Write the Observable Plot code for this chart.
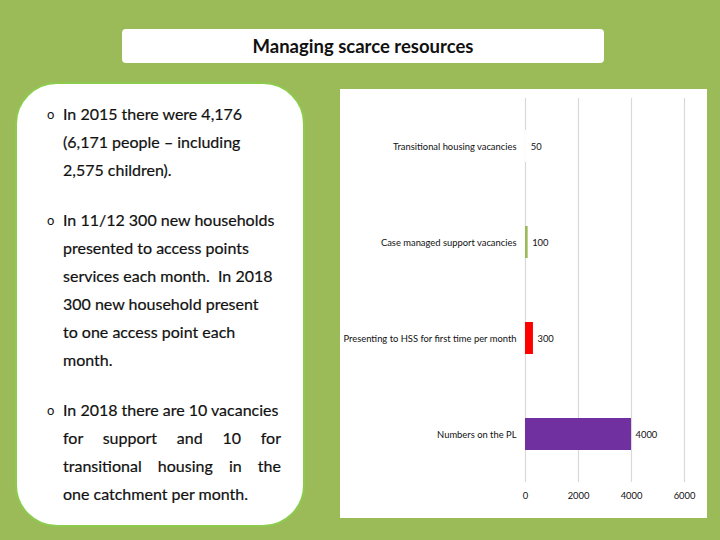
<!DOCTYPE html>
<html><head><meta charset="utf-8">
<script src="https://cdn.jsdelivr.net/npm/d3@7"></script>
<script src="https://cdn.jsdelivr.net/npm/@observablehq/plot@0.6"></script>
<style>
html,body{margin:0;padding:0;}
body{width:720px;height:540px;background:#9BBB59;position:relative;overflow:hidden;font-family:Lato,"Open Sans",sans-serif;}
#title{position:absolute;left:122px;top:29px;width:482px;height:34px;background:#fff;border-radius:4px;text-align:center;line-height:34px;font-size:18.5px;font-weight:bold;color:#111;}
#left{position:absolute;left:15px;top:82px;width:286px;height:441px;background:#fff;border:2px solid #8DCB4F;border-radius:42px;}
#text{position:absolute;left:63px;top:100px;width:218px;font-size:16px;color:#111;line-height:28px;font-weight:normal;-webkit-text-stroke:0.2px #111;white-space:nowrap;}
#text .p{position:relative;margin-bottom:22px;}
#text .p:before{content:"o";position:absolute;left:-16px;top:0;font-size:13px;-webkit-text-stroke:0;}
#text .j{white-space:normal;text-align:justify;text-align-last:justify;}
#chart{position:absolute;left:340px;top:89px;width:367px;height:429px;background:#fff;}
</style></head>
<body>
<div id="title">Managing scarce resources</div>
<div id="left"></div>
<div id="text">
  <div class="p"><div>In 2015 there were 4,176</div><div>(6,171 people – including</div><div>2,575 children).</div></div>
  <div class="p"><div>In 11/12 300 new households</div><div>presented to access points</div><div>services each month.&nbsp; In 2018</div><div>300 new household present</div><div>to one access point each</div><div>month.</div></div>
  <div class="p"><div>In 2018 there are 10 vacancies</div><div class="j">for support and 10 for</div><div class="j">transitional housing in the</div><div>one catchment per month.</div></div>
</div>
<div id="chart"></div>
<script>
const categories = ["Transitional housing vacancies", "Case managed support vacancies", "Presenting to HSS for first time per month", "Numbers on the PL"];
const values = [50, 100, 300, 4000];
const barColors = ["#ffffff", "#9BBB59", "#FF0000", "#7030A0"];
const xTicks = [0, 2000, 4000, 6000];

const data = categories.map((c, i) => ({category: c, value: values[i], color: barColors[i]}));

const plot = Plot.plot({
  width: 367,
  height: 429,
  marginTop: 9,
  marginBottom: 36,
  marginLeft: 185,
  marginRight: 23,
  style: {fontFamily: "Lato, 'Open Sans', sans-serif", fontSize: "9.4px", color: "#111", background: "transparent"},
  x: {domain: [0, 6000], ticks: xTicks, label: null, tickSize: 0, tickPadding: 10, tickFormat: d => String(d)},
  y: {domain: categories, label: null, paddingInner: 0.67, paddingOuter: 0.335, tickSize: 0, tickPadding: 9},
  marks: [
    Plot.ruleX(xTicks, {stroke: "#d9d9d9", strokeWidth: 1.2}),
    Plot.barX(data, {x: "value", y: "category", fill: "color"}),
    Plot.text(data, {x: "value", y: "category", text: d => String(d.value), textAnchor: "start", dx: 4, fill: "#111"})
  ]
});
document.getElementById("chart").appendChild(plot);
</script>
</body></html>
